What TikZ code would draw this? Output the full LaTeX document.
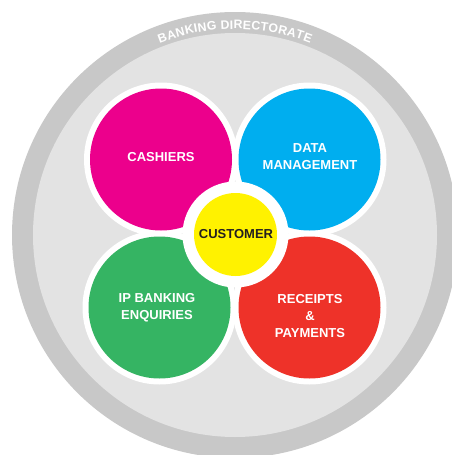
\documentclass[tikz,border=0pt]{standalone}
\usepackage{fontspec}
\setmainfont{Liberation Sans}
\definecolor{ringgray}{HTML}{C8C8C8}
\definecolor{fieldgray}{HTML}{E3E3E3}
\definecolor{cmagenta}{HTML}{EC008C}
\definecolor{ccyan}{HTML}{00AEEF}
\definecolor{cgreen}{HTML}{35B463}
\definecolor{cred}{HTML}{EE3229}
\definecolor{cyellow}{HTML}{FFF200}
\definecolor{inkdark}{HTML}{231F20}
% lettering of the ring title (advance widths of the bold face, per 1000 em)
\newcommand\ringsize{12.3}
\newcommand\ringfont{\fontsize{\ringsize}{\ringsize}\selectfont\bfseries}
\newcommand\ringgap{0.25}
\newcommand\ringrad{206}
\newcommand\ringunits{12.166}
\begin{document}
\begin{tikzpicture}[x=1pt,y=-1pt,
  halo/.style={circle,fill=white,draw=none,minimum size=154pt,inner sep=0pt},
  petal/.style={circle,draw=none,minimum size=142pt,inner sep=0pt},
  label/.style={text=white,font=\fontsize{13}{17}\selectfont\bfseries,align=center},
  hubhalo/.style={circle,fill=white,draw=none,minimum size=106pt,inner sep=0pt},
  hub/.style={circle,fill=cyellow,draw=none,minimum size=83pt,inner sep=0pt},
  ringletter/.style={text=white,font=\ringfont,inner sep=0pt,anchor=base}]
\useasboundingbox (0,0) rectangle (451,455);
% outer directorate ring
\fill[ringgray] (235,235) circle[radius=223];
\fill[fieldgray] (235,235) circle[radius=202];
% ring title, one letter at a time along the upper arc
\pgfmathsetmacro\ringtotal{\ringunits*\ringsize+18*\ringgap}
\gdef\ringacc{0}
\foreach \ch/\w [count=\i] in {B/722,A/722,N/722,K/722,I/278,N/722,G/778,\space/278,
    D/722,I/278,R/722,E/667,C/722,T/611,O/778,R/722,A/722,T/611,E/667} {
  \pgfmathsetmacro\ringmid{\ringacc+0.5*\w/1000*\ringsize}
  \pgfmathsetmacro\ang{90-(\ringmid-0.5*\ringtotal)/\ringrad*180/pi}
  \path (235,235) ++(-\ang:\ringrad) node[ringletter,rotate=\ang-90] (rl\i) {\ch};
  \pgfmathsetmacro\ringnext{\ringacc+\w/1000*\ringsize+\ringgap}
  \xdef\ringacc{\ringnext}
}
% white halos behind the four units
\node[halo] (h1) at (161,159.5) {};
\node[halo] (h2) at (309.5,159.5) {};
\node[halo] (h3) at (159.5,307.5) {};
\node[halo] (h4) at (309.5,307.5) {};
% the four units
\node[petal,fill=cmagenta] (cash) at (161,159.5) {};
\node[petal,fill=ccyan] (data) at (309.5,159.5) {};
\node[petal,fill=cgreen] (ipb) at (159.5,307.5) {};
\node[petal,fill=cred] (rec) at (309.5,307.5) {};
\node[label] (tcash) at (161,157) {CASHIERS};
\node[label] (tdata) at (310,156.5) {DATA\\MANAGEMENT};
\node[label] (tipb) at (157,308) {IP BANKING\\ENQUIRIES};
\node[label] (trec) at (310,316) {RECEIPTS\\\&\\PAYMENTS};
% customer at the centre
\node[hubhalo] (hh) at (235.5,234.5) {};
\node[hub] (cust) at (235.5,234.5) {};
\node[text=inkdark,font=\fontsize{13}{17}\selectfont\bfseries] (tcust) at (236,234) {CUSTOMER};
\end{tikzpicture}
\end{document}
